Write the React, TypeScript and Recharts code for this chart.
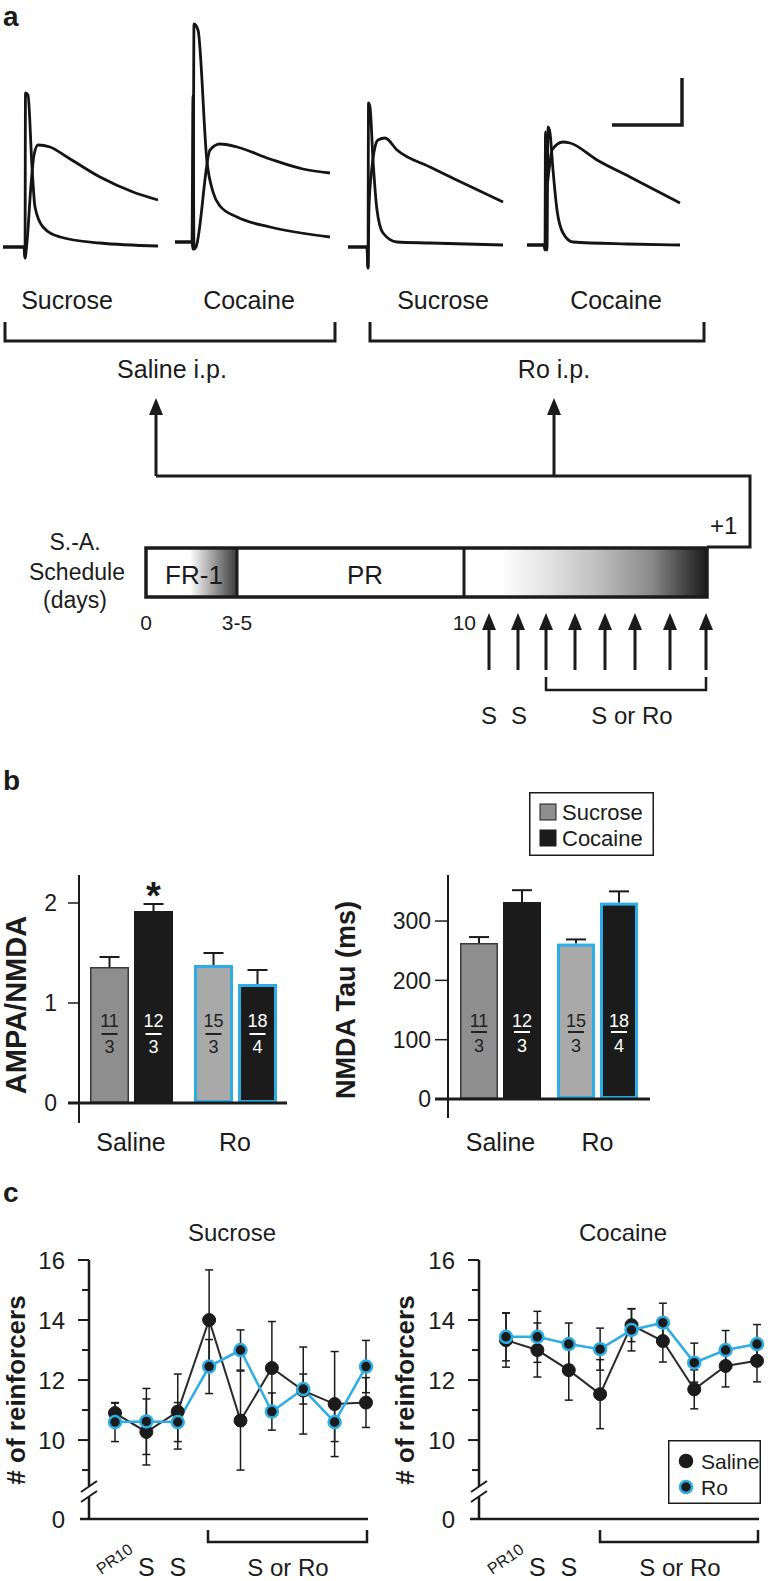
import React from 'react';
import { LineChart, Line, XAxis, YAxis, BarChart, Bar, ErrorBar, Legend, ReferenceLine } from 'recharts';

const FONT = '"Liberation Sans", Arial, Helvetica, sans-serif';
const INK = '#1b1b1b';
const BLUE = '#2eade4';

// ---------- a: example EPSCs (t = sample position, v = amplitude above baseline) ----------
const salSucAmpa = [
  { t: 0, v: 0 }, { t: 21, v: 0 }, { t: 22, v: -11 }, { t: 22.5, v: 154 }, { t: 25, v: 152 },
  { t: 29, v: 80 }, { t: 32, v: 40 }, { t: 40, v: 20 }, { t: 57, v: 10 }, { t: 97, v: 4 }, { t: 155, v: 1 },
];
const salSucNmda = [
  { t: 0, v: 0 }, { t: 21, v: 0 }, { t: 22, v: -11 }, { t: 24, v: 5 }, { t: 28, v: 62 }, { t: 31, v: 92 },
  { t: 35, v: 102 }, { t: 47, v: 100 }, { t: 64, v: 90 }, { t: 97, v: 70 }, { t: 130, v: 55 }, { t: 155, v: 47 },
];
const salCocAmpa = [
  { t: 0, v: 0 }, { t: 17, v: 0 }, { t: 18, v: -7 }, { t: 19, v: 218 }, { t: 23, v: 212 }, { t: 32, v: 80 },
  { t: 38, v: 50 }, { t: 45, v: 36 }, { t: 62, v: 25 }, { t: 95, v: 15 }, { t: 155, v: 5 },
];
const salCocNmda = [
  { t: 0, v: 0 }, { t: 17, v: 0 }, { t: 18, v: 146 }, { t: 19, v: -7 }, { t: 21, v: -5 }, { t: 35, v: 92 },
  { t: 45, v: 98 }, { t: 62, v: 95 }, { t: 95, v: 83 }, { t: 128, v: 73 }, { t: 155, v: 69 },
];
const roSucAmpa = [
  { t: 0, v: 0 }, { t: 19, v: 0 }, { t: 20, v: -21 }, { t: 20.5, v: 144 }, { t: 22, v: 140 }, { t: 25, v: 87 },
  { t: 29, v: 37 }, { t: 35, v: 14 }, { t: 49, v: 5 }, { t: 82, v: 4 }, { t: 155, v: 2 },
];
const roSucNmda = [
  { t: 0, v: 0 }, { t: 19, v: 0 }, { t: 20, v: -21 }, { t: 21, v: 40 }, { t: 24, v: 80 }, { t: 27, v: 100 },
  { t: 30, v: 107 }, { t: 37, v: 109 }, { t: 49, v: 97 }, { t: 82, v: 80 }, { t: 115, v: 64 }, { t: 155, v: 45 },
];
const roCocAmpa = [
  { t: 0, v: 0 }, { t: 19, v: 0 }, { t: 20, v: -5 }, { t: 21, v: 118 }, { t: 23, v: 112 }, { t: 26, v: 75 },
  { t: 30, v: 35 }, { t: 36, v: 12 }, { t: 46, v: 3 }, { t: 100, v: 1 }, { t: 153, v: 0 },
];
const roCocNmda = [
  { t: 0, v: 0 }, { t: 17, v: 0 }, { t: 18, v: -5 }, { t: 18.5, v: 113 }, { t: 20, v: 60 }, { t: 22, v: 75 },
  { t: 25, v: 95 }, { t: 36, v: 103 }, { t: 43, v: 102 }, { t: 70, v: 85 }, { t: 103, v: 68 }, { t: 153, v: 42 },
];

// ---------- b: AMPA/NMDA ratio and NMDA decay ----------
const groups = ['Saline', 'Ro'];
const ratioSucrose = [1.36, 1.38];
const ratioSucroseErr = [0.1, 0.12];
const ratioCocaine = [1.92, 1.19];
const ratioCocaineErr = [0.07, 0.14];
const tauSucrose = [263, 262];
const tauSucroseErr = [10, 7];
const tauCocaine = [332, 331];
const tauCocaineErr = [20, 19];
const cellsSucrose = [11, 15];
const cellsCocaine = [12, 18];
const ratsSucrose = [3, 3];
const ratsCocaine = [3, 4];
const significant = [true, false];
const barSeries = ['Sucrose', 'Cocaine'];

// ---------- c: reinforcers per session ----------
const sessions = ['PR10', 'S1', 'S2', 'T1', 'T2', 'T3', 'T4', 'T5', 'T6'];
const sessionTicks = ['PR10', 'S', 'S', '', '', '', '', '', ''];
const sucSaline = [10.9, 10.27, 10.95, 14.0, 10.65, 12.4, 11.65, 11.2, 11.25];
const sucSalineErr = [0.33, 1.1, 1.25, 1.67, 1.65, 1.55, 1.45, 1.75, 0.83];
const sucRo = [10.6, 10.62, 10.6, 12.45, 13.0, 10.95, 11.7, 10.6, 12.45];
const sucRoErr = [0.65, 1.1, 0.65, 0.9, 0.67, 0.62, 0.5, 0.65, 0.87];
const cocSaline = [13.33, 13.0, 12.33, 11.53, 13.83, 13.3, 11.69, 12.47, 12.64];
const cocSalineErr = [0.9, 0.9, 1.0, 1.15, 0.55, 0.7, 0.65, 0.7, 0.7];
const cocRo = [13.44, 13.44, 13.2, 13.03, 13.67, 13.91, 12.58, 13.0, 13.2];
const cocRoErr = [0.8, 0.85, 0.7, 0.7, 0.7, 0.65, 0.65, 0.65, 0.65];
const lineSeries = ['Saline', 'Ro'];
const AXIS_FLOOR = 7.37; // broken axis: bottom of the axis is labelled 0

const ratioRows = groups.map((g, i) => ({
  group: g, sucrose: ratioSucrose[i], sucroseErr: ratioSucroseErr[i], cocaine: ratioCocaine[i], cocaineErr: ratioCocaineErr[i],
  sucroseN: cellsSucrose[i], sucroseRats: ratsSucrose[i], cocaineN: cellsCocaine[i], cocaineRats: ratsCocaine[i], sig: significant[i],
}));
const tauRows = groups.map((g, i) => ({
  group: g, sucrose: tauSucrose[i], sucroseErr: tauSucroseErr[i], cocaine: tauCocaine[i], cocaineErr: tauCocaineErr[i],
  sucroseN: cellsSucrose[i], sucroseRats: ratsSucrose[i], cocaineN: cellsCocaine[i], cocaineRats: ratsCocaine[i], sig: false,
}));
const sucroseRows = sessions.map((s, i) => ({ session: s, saline: sucSaline[i], salineErr: sucSalineErr[i], ro: sucRo[i], roErr: sucRoErr[i] }));
const cocaineRows = sessions.map((s, i) => ({ session: s, saline: cocSaline[i], salineErr: cocSalineErr[i], ro: cocRo[i], roErr: cocRoErr[i] }));

const barLook: any = {
  Saline: { sucrose: { fill: '#8e8e8e', stroke: '#3a3a3a', sw: 1.5 }, cocaine: { fill: INK, stroke: INK, sw: 1.5 } },
  Ro: { sucrose: { fill: '#a9a9a9', stroke: BLUE, sw: 3 }, cocaine: { fill: INK, stroke: BLUE, sw: 3 } },
};

function makeBarShape(key: string, off: { num: number; line: number; den: number }) {
  return (props: any) => {
    const { x, y, width, height, payload } = props;
    const st = barLook[payload.group][key];
    const perUnit = height / payload[key];
    const capY = y - payload[key + 'Err'] * perUnit;
    const cx = x + width / 2;
    const bottom = y + height;
    const txt = st.fill === INK ? '#fff' : '#222';
    return (
      <g>
        <line x1={cx} x2={cx} y1={y} y2={capY} stroke={INK} strokeWidth={2} />
        <line x1={cx - 10} x2={cx + 10} y1={capY} y2={capY} stroke={INK} strokeWidth={2} />
        <rect x={x + st.sw / 2} y={y + st.sw / 2} width={width - st.sw} height={height - st.sw} fill={st.fill} stroke={st.stroke} strokeWidth={st.sw} />
        <text x={cx} y={bottom - off.num} dy="0.36em" textAnchor="middle" fontSize={18} fill={txt}>{payload[key + 'N']}</text>
        <line x1={cx - 8} x2={cx + 8} y1={bottom - off.line} y2={bottom - off.line} stroke={txt} strokeWidth={2} />
        <text x={cx} y={bottom - off.den} dy="0.36em" textAnchor="middle" fontSize={18} fill={txt}>{payload[key + 'Rats']}</text>
        {key === 'cocaine' && payload.sig && (
          <text x={cx} y={capY + 5} textAnchor="middle" fontSize={38} fontWeight="bold" fill={INK}>*</text>
        )}
      </g>
    );
  };
}

function makeBarTick(len: number, gap: number) {
  return (props: any) => {
    const { x, y, payload } = props;
    const zero = payload.value === 0;
    return (
      <g>
        <line x1={x + gap} x2={x + gap + len} y1={y} y2={y} stroke={INK} strokeWidth={zero ? 3 : 1.5} />
        <text x={x} y={y} dy="0.36em" textAnchor="end" fontSize={23} fill={INK}>{payload.value}</text>
      </g>
    );
  };
}

const CountTick = (props: any) => {
  const { x, y, payload } = props;
  const v = payload.value;
  const axisX = x + 24;
  const major = [10, 12, 14, 16].includes(v);
  const floor = v === AXIS_FLOOR;
  return (
    <g>
      {floor
        ? <line x1={axisX - 9} x2={axisX} y1={y} y2={y} stroke={INK} strokeWidth={2.5} />
        : <line x1={axisX - (major ? 11 : 7)} x2={axisX} y1={y} y2={y} stroke={INK} strokeWidth={2} />}
      {(major || floor) && (
        <text x={x} y={y} dy="0.36em" textAnchor="end" fontSize={24} fill={INK}>{floor ? 0 : v}</text>
      )}
    </g>
  );
};

const SessionTick = (props: any) => {
  const { x, y, index } = props;
  const lab = sessionTicks[index];
  if (lab === 'PR10') {
    const ax = x + 19;
    const ay = y + 33;
    return <text x={ax} y={ay} transform={`rotate(-35 ${ax} ${ay})`} textAnchor="end" fontSize={16} fill={INK}>PR10</text>;
  }
  if (!lab) return <g />;
  return <text x={x} y={y + 57} textAnchor="middle" fontSize={25} fill={INK}>{lab}</text>;
};

function Trace({ left, base, ampa, nmda }: any) {
  return (
    <div style={{ position: 'absolute', left, top: 0 }}>
      <LineChart width={160} height={270} margin={{ top: 0, right: 0, bottom: 0, left: 0 }}>
        <XAxis type="number" dataKey="t" domain={[0, 160]} hide allowDataOverflow />
        <YAxis type="number" domain={[base - 270, base]} hide allowDataOverflow />
        <Line data={ampa} dataKey="v" type="monotone" stroke="#141414" strokeWidth={2.8} dot={false} activeDot={false} isAnimationActive={false} />
        <Line data={nmda} dataKey="v" type="monotone" stroke="#141414" strokeWidth={2.8} dot={false} activeDot={false} isAnimationActive={false} />
      </LineChart>
    </div>
  );
}

const inOrder = (payload: any[], order: string[]) =>
  order.map((name) => (payload || []).find((p: any) => p.value === name)).filter(Boolean);

const barLegend = (props: any) => (
  <svg width={125} height={64}>
    <rect x={0.75} y={0.75} width={123.5} height={62.5} fill="#fff" stroke={INK} strokeWidth={1.5} />
    {inOrder(props.payload, barSeries).map((p: any, i: number) => (
      <g key={i}>
        <rect x={11} y={12 + i * 26} width={16} height={16} fill={p.color} stroke={INK} strokeWidth={1} />
        <text x={33} y={20 + i * 26} dy="0.36em" fontSize={22} fill={INK}>{p.value}</text>
      </g>
    ))}
  </svg>
);

const lineLegend = (props: any) => (
  <svg width={93} height={64}>
    <rect x={0.75} y={0.75} width={91.5} height={62.5} fill="#fff" stroke={INK} strokeWidth={1.5} />
    {inOrder(props.payload, lineSeries).map((p: any, i: number) => (
      <g key={i}>
        <circle cx={18} cy={21 + i * 26} r={6} fill={INK} stroke={p.value === 'Ro' ? BLUE : INK} strokeWidth={2.5} />
        <text x={33} y={21 + i * 26} dy="0.36em" fontSize={21} fill={INK}>{p.value}</text>
      </g>
    ))}
  </svg>
);

function RatioChart() {
  return (
    <div style={{ position: 'absolute', left: 0, top: 780 }}>
      <BarChart width={300} height={388} data={ratioRows} margin={{ top: 95, right: 13, bottom: 0, left: 0 }} barCategoryGap={11} barGap={5}>
        <XAxis dataKey="group" axisLine={false} tickLine={false} tickMargin={4} height={45} tick={{ fontSize: 25, fill: INK }} />
        <YAxis type="number" width={79} domain={[-0.2, 2.28]} ticks={[0, 1, 2]} allowDataOverflow axisLine={{ stroke: INK, strokeWidth: 2 }} tickLine={false} tickSize={11} tickMargin={11} tick={makeBarTick(11, 11)} />
        <ReferenceLine y={0} stroke={INK} strokeWidth={3} />
        <Bar dataKey="sucrose" name="Sucrose" fill="#8e8e8e" shape={makeBarShape('sucrose', { num: 82, line: 69, den: 56 })} isAnimationActive={false} />
        <Bar dataKey="cocaine" name="Cocaine" fill={INK} shape={makeBarShape('cocaine', { num: 82, line: 69, den: 56 })} isAnimationActive={false} />
      </BarChart>
    </div>
  );
}

function TauChart() {
  return (
    <div style={{ position: 'absolute', left: 360, top: 780 }}>
      <BarChart width={300} height={383} data={tauRows} margin={{ top: 95, right: 10, bottom: 0, left: 0 }} barCategoryGap={8} barGap={5}>
        <XAxis dataKey="group" axisLine={false} tickLine={false} tickMargin={9} height={45} padding={{ left: 4, right: 4 }} tick={{ fontSize: 25, fill: INK }} />
        <YAxis type="number" width={88} domain={[-32, 377.6]} ticks={[0, 100, 200, 300]} allowDataOverflow axisLine={{ stroke: INK, strokeWidth: 2 }} tickLine={false} tickSize={13} tickMargin={4} tick={makeBarTick(13, 4)} />
        <ReferenceLine y={0} stroke={INK} strokeWidth={3} />
        <Legend layout="horizontal" verticalAlign="middle" align="center" content={barLegend}
          wrapperStyle={{ position: 'absolute', left: 169, top: 12, width: 125, height: 64 }} />
        <Bar dataKey="sucrose" name="Sucrose" fill="#8e8e8e" shape={makeBarShape('sucrose', { num: 78, line: 67, den: 53 })} isAnimationActive={false} />
        <Bar dataKey="cocaine" name="Cocaine" fill={INK} shape={makeBarShape('cocaine', { num: 78, line: 67, den: 53 })} isAnimationActive={false} />
      </BarChart>
    </div>
  );
}

function SessionChart({ left, rows, padLeft, legend }: any) {
  return (
    <div style={{ position: 'absolute', left, top: 1240 }}>
      <LineChart width={left === 0 ? 378 : 379} height={341} data={rows} margin={{ top: 20, right: 10, bottom: 0, left: 0 }}>
        <XAxis dataKey="session" scale="point" padding={{ left: padLeft, right: 2 }} interval={0} height={62}
          axisLine={{ stroke: INK, strokeWidth: 2.5 }} tickLine={false} tickSize={0} tickMargin={0} tick={SessionTick} />
        <YAxis type="number" width={89} domain={[AXIS_FLOOR, 16]} ticks={[AXIS_FLOOR, 9, 10, 11, 12, 13, 14, 15, 16]} allowDataOverflow
          axisLine={{ stroke: INK, strokeWidth: 2.5 }} tickLine={false} tickSize={11} tickMargin={13} tick={CountTick} />
        {legend && (
          <Legend layout="horizontal" verticalAlign="middle" align="center" content={lineLegend}
            wrapperStyle={{ position: 'absolute', left: 278, top: 200, width: 93, height: 64 }} />
        )}
        <Line dataKey="saline" name="Saline" stroke="#2a2a2a" strokeWidth={2} isAnimationActive={false}
          dot={{ r: 6.5, fill: INK, stroke: INK, strokeWidth: 1 }} activeDot={false}>
          <ErrorBar dataKey="salineErr" direction="y" width={4} stroke={INK} strokeWidth={1.5} />
        </Line>
        <Line dataKey="ro" name="Ro" stroke={BLUE} strokeWidth={2.5} isAnimationActive={false}
          dot={{ r: 6, fill: INK, stroke: BLUE, strokeWidth: 2.5 }} activeDot={false}>
          <ErrorBar dataKey="roErr" direction="y" width={4} stroke={INK} strokeWidth={1.5} />
        </Line>
      </LineChart>
    </div>
  );
}

function Arrow({ x, tip, tail }: { x: number; tip: number; tail: number }) {
  return (
    <g>
      <line x1={x} x2={x} y1={tail} y2={tip + 14} stroke={INK} strokeWidth={3} />
      <polygon points={`${x},${tip} ${x - 7},${tip + 17} ${x + 7},${tip + 17}`} fill={INK} />
    </g>
  );
}

function AxisBreak({ x }: { x: number }) {
  return (
    <g>
      <rect x={x - 6} y={1486} width={12} height={11} fill="#fff" />
      <line x1={x - 8} y1={1492} x2={x + 8} y2={1481} stroke={INK} strokeWidth={2} />
      <line x1={x - 8} y1={1502} x2={x + 8} y2={1491} stroke={INK} strokeWidth={2} />
    </g>
  );
}

function Overlay() {
  const dayArrows = [489, 518, 546, 575, 605, 635, 670, 706];
  return (
    <svg width={777} height={1581} style={{ position: 'absolute', left: 0, top: 0, pointerEvents: 'none' }} fontFamily={FONT} fill={INK}>
      <defs>
        <linearGradient id="frFade" x1="0" x2="1" y1="0" y2="0">
          <stop offset="0" stopColor="#fff" />
          <stop offset="1" stopColor="#3a3a3a" />
        </linearGradient>
        <linearGradient id="roFade" x1="0" x2="1" y1="0" y2="0">
          <stop offset="0" stopColor="#fff" />
          <stop offset="0.15" stopColor="#fff" />
          <stop offset="0.35" stopColor="#e2e2e2" />
          <stop offset="0.56" stopColor="#bdbdbd" />
          <stop offset="0.77" stopColor="#8a8a8a" />
          <stop offset="0.93" stopColor="#3a3a3a" />
          <stop offset="1" stopColor="#1a1a1a" />
        </linearGradient>
      </defs>

      {/* panel a */}
      <text x={3} y={26} fontSize={28} fontWeight="bold">a</text>
      <path d="M612 125 H682 V78" fill="none" stroke={INK} strokeWidth={3.5} />
      <g fontSize={25} textAnchor="middle">
        <text x={67} y={309}>Sucrose</text>
        <text x={249} y={309}>Cocaine</text>
        <text x={443} y={309}>Sucrose</text>
        <text x={616} y={309}>Cocaine</text>
        <text x={172} y={378}>Saline i.p.</text>
        <text x={554} y={378}>Ro i.p.</text>
      </g>
      <path d="M5 322 V341 H335 V322 M370 322 V341 H704 V322" fill="none" stroke={INK} strokeWidth={3} />
      <Arrow x={156} tip={398} tail={476} />
      <Arrow x={554} tip={398} tail={476} />
      <path d="M156 476 H750 V547 H707" fill="none" stroke={INK} strokeWidth={3} />
      <text x={710} y={534} fontSize={24}>+1</text>

      <g fontSize={23} textAnchor="middle">
        <text x={75} y={550}>S.-A.</text>
        <text x={77} y={580}>Schedule</text>
        <text x={75} y={608}>(days)</text>
      </g>
      <rect x={146} y={548} width={561} height={49} fill="#fff" />
      <rect x={190} y={548} width={47} height={49} fill="url(#frFade)" />
      <rect x={464} y={548} width={243} height={49} fill="url(#roFade)" />
      <rect x={146} y={548} width={561} height={49} fill="none" stroke={INK} strokeWidth={3.5} />
      <line x1={237} x2={237} y1={548} y2={597} stroke={INK} strokeWidth={3} />
      <line x1={464} x2={464} y1={548} y2={597} stroke={INK} strokeWidth={3} />
      <g fontSize={26} textAnchor="middle">
        <text x={194} y={584}>FR-1</text>
        <text x={365} y={584}>PR</text>
      </g>
      <g fontSize={21}>
        <text x={146} y={630} textAnchor="middle">0</text>
        <text x={237} y={630} textAnchor="middle">3-5</text>
        <text x={476} y={630} textAnchor="end">10</text>
      </g>
      {dayArrows.map((x) => <Arrow key={x} x={x} tip={613} tail={670} />)}
      <path d="M546 677 V690 H706 V677" fill="none" stroke={INK} strokeWidth={2.5} />
      <g fontSize={24} textAnchor="middle">
        <text x={489} y={724}>S</text>
        <text x={519} y={724}>S</text>
        <text x={632} y={724}>S or Ro</text>
      </g>

      {/* panel b */}
      <text x={3} y={790} fontSize={28} fontWeight="bold">b</text>
      <text transform="translate(26 1005) rotate(-90)" textAnchor="middle" fontSize={29} fontWeight="bold">AMPA/NMDA</text>
      <text transform="translate(355 1000) rotate(-90)" textAnchor="middle" fontSize={27} fontWeight="bold">NMDA Tau (ms)</text>

      {/* panel c */}
      <text x={3} y={1202} fontSize={28} fontWeight="bold">c</text>
      <g fontSize={24} textAnchor="middle">
        <text x={232} y={1241}>Sucrose</text>
        <text x={623} y={1241}>Cocaine</text>
      </g>
      <text transform="translate(25 1390) rotate(-90)" textAnchor="middle" fontSize={26} fontWeight="bold"># of reinforcers</text>
      <text transform="translate(414 1390) rotate(-90)" textAnchor="middle" fontSize={26} fontWeight="bold"># of reinforcers</text>
      <AxisBreak x={89} />
      <AxisBreak x={479} />
      <path d="M208 1530 V1542 H367 V1530 M600 1530 V1542 H758 V1530" fill="none" stroke={INK} strokeWidth={2.5} />
      <g fontSize={24} textAnchor="middle">
        <text x={288} y={1576}>S or Ro</text>
        <text x={680} y={1576}>S or Ro</text>
      </g>
    </svg>
  );
}

export default function App() {
  return (
    <div style={{ position: 'absolute', left: 0, top: 0, width: 777, height: 1581, background: '#fff', fontFamily: FONT, color: INK, overflow: 'hidden' }}>
      <Trace left={3} base={247} ampa={salSucAmpa} nmda={salSucNmda} />
      <Trace left={175} base={242} ampa={salCocAmpa} nmda={salCocNmda} />
      <Trace left={348} base={247} ampa={roSucAmpa} nmda={roSucNmda} />
      <Trace left={527} base={245} ampa={roCocAmpa} nmda={roCocNmda} />
      <RatioChart />
      <TauChart />
      <SessionChart left={0} rows={sucroseRows} padLeft={26} legend={false} />
      <SessionChart left={390} rows={cocaineRows} padLeft={27} legend={true} />
      <Overlay />
    </div>
  );
}
